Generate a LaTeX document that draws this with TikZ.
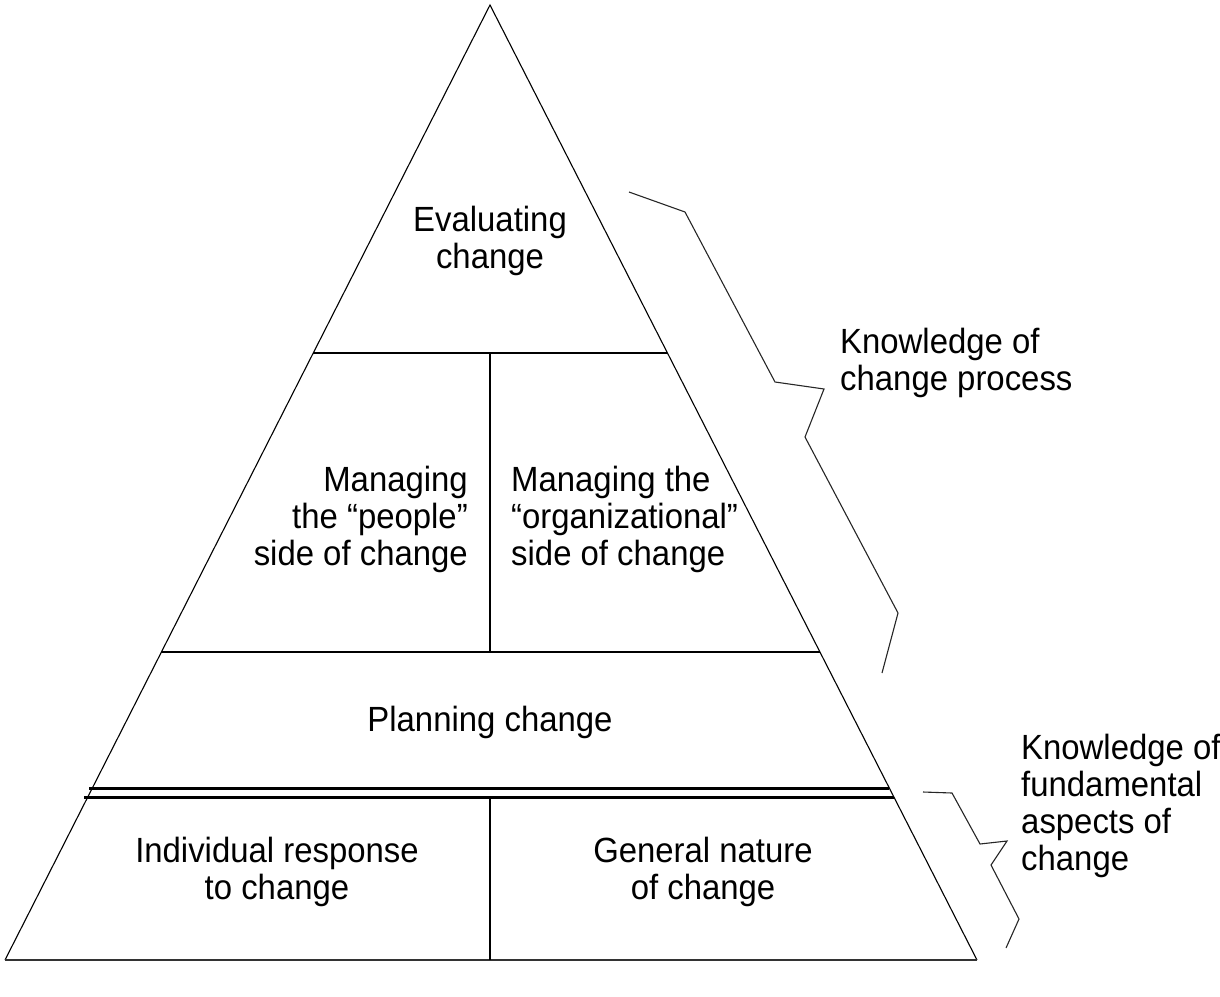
\documentclass[tikz,border=0pt]{standalone}
\usepackage{fontspec}
\setmainfont{Liberation Sans}[FakeStretch=0.94]
\begin{document}
\begin{tikzpicture}[x=1pt,y=-1pt,
  txt/.style={inner sep=0pt,font=\fontsize{35}{37}\selectfont},
  thin line/.style={line width=1.1pt,black},
  divider/.style={line width=1.8pt,black},
  dbl/.style={line width=3pt,black},
  bracket/.style={line width=1.1pt,black!85,line join=miter}]
\useasboundingbox (0,0) rectangle (1220,996);
% corners
\coordinate (apex) at (490,5);
\coordinate (bl) at (5,960);
\coordinate (br) at (977,960);
% pyramid outline
\draw[thin line] (bl) -- (apex) -- (br);
\draw[line width=1.6pt,black!80] (bl) -- (br);
% tier lines
\coordinate (t1l) at (313,353); \coordinate (t1r) at (667,353);
\coordinate (t2l) at (161,652); \coordinate (t2r) at (820,652);
\coordinate (d1l) at (89,788);  \coordinate (d1r) at (889,788);
\coordinate (d2l) at (84,797);  \coordinate (d2r) at (894,797);
\draw[divider] (t1l) -- (t1r);
\draw[divider] (t2l) -- (t2r);
\draw[dbl] (d1l) -- (d1r);
\draw[dbl] (d2l) -- (d2r);
% vertical dividers
\coordinate (v1t) at (490,353); \coordinate (v1b) at (490,652);
\coordinate (v2t) at (490,797); \coordinate (v2b) at (490,960);
\draw[divider] (v1t) -- (v1b);
\draw[divider] (v2t) -- (v2b);
% texts
\node[txt,align=center] (eval) at (490,241) {Evaluating\\change};
\node[txt,align=right,anchor=east] (people) at (468,519) {Managing\\the “people”\\side of change};
\node[txt,align=left,anchor=west] (org) at (511,519) {Managing the\\“organizational”\\side of change};
\node[txt] (plan) at (490,722) {Planning change};
\node[txt,align=center] (indiv) at (277,872) {Individual response\\to change};
\node[txt,align=center] (gen) at (703,872) {General nature\\of change};
\node[txt,align=left,anchor=west] (kcp) at (840,363) {Knowledge of\\change process};
\node[txt,align=left,anchor=west] (kfa) at (1021,806) {Knowledge of\\fundamental\\aspects of\\change};
% brackets
\draw[bracket] (629,192) -- (685,212) -- (775,382) -- (824,389) -- (805,437) -- (898,613) -- (882,673);
\draw[bracket] (923,792) -- (952,793) -- (980,844) -- (1007,841) -- (991,865) -- (1019,919) -- (1006,948);
\end{tikzpicture}
\end{document}
